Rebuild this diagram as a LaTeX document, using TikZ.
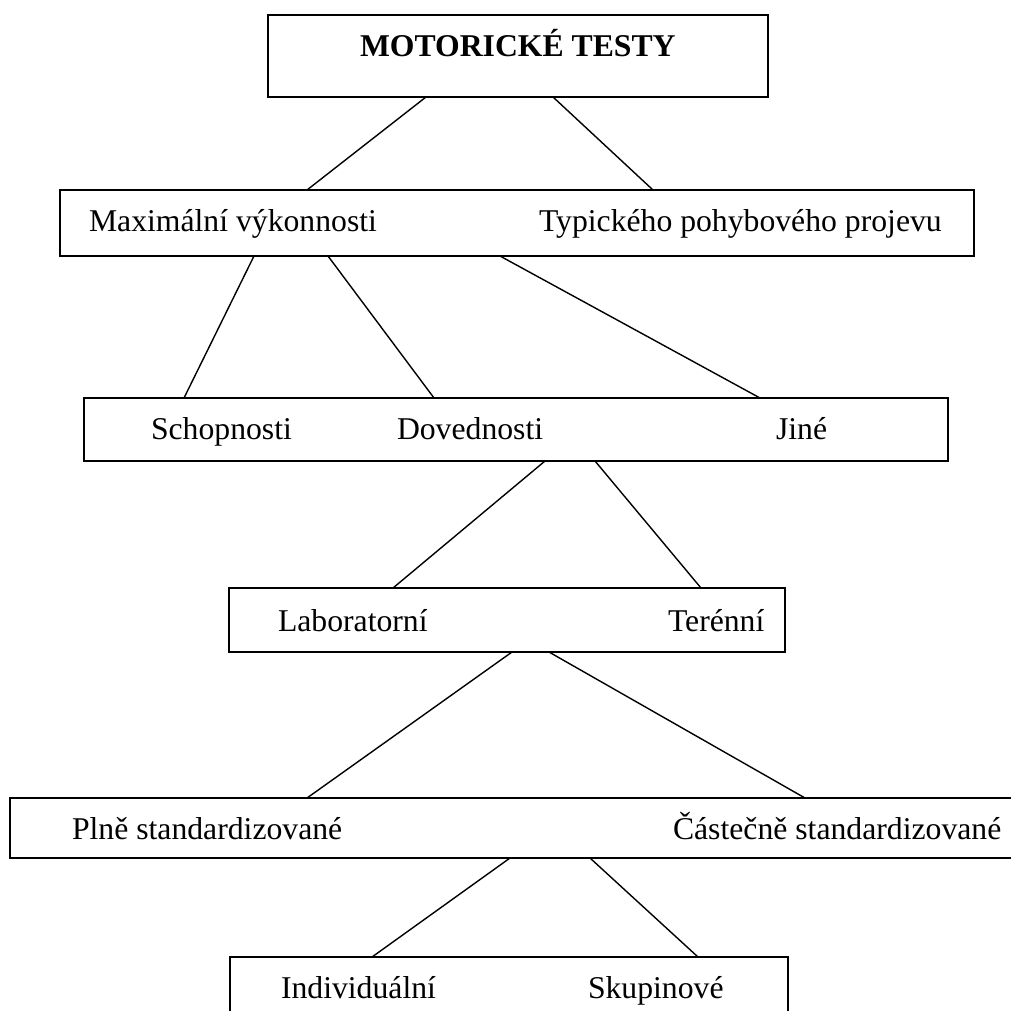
\documentclass[tikz,border=0pt]{standalone}
\usepackage{fontspec}
\setmainfont{Liberation Serif}
\begin{document}
\begin{tikzpicture}[x=1pt,y=-1pt,
  box/.style={draw=black,line width=1.8pt,inner sep=0pt,outer sep=0pt,anchor=north west},
  lbl/.style={inner sep=0pt,outer sep=0pt,anchor=base west,font=\fontsize{31.7}{38}\selectfont},
  ttl/.style={inner sep=0pt,outer sep=0pt,anchor=base west,font=\fontsize{31.7}{38}\selectfont\bfseries},
  conn/.style={draw=black,line width=1.4pt}]
\useasboundingbox[fill=white] (0,0) rectangle (1011,1010);
% boxes
\node[box,minimum width=500pt,minimum height=82pt] (b1) at (268,15) {};
\node[box,minimum width=914pt,minimum height=66pt] (b2) at (60,190) {};
\node[box,minimum width=864pt,minimum height=63pt] (b3) at (84,398) {};
\node[box,minimum width=556pt,minimum height=64pt] (b4) at (229,588) {};
\node[box,minimum width=1010pt,minimum height=60pt] (b5) at (10,798) {};
\node[box,minimum width=558pt,minimum height=80pt] (b6) at (230,957) {};
% texts
\node[ttl] (t1) at (360,56) {MOTORICKÉ TESTY};
\node[lbl] (t2a) at (89,231) {Maximální výkonnosti};
\node[lbl] (t2b) at (539,231) {Typického pohybového projevu};
\node[lbl] (t3a) at (151,439) {Schopnosti};
\node[lbl] (t3b) at (397,439) {Dovednosti};
\node[lbl] (t3c) at (776,439) {Jiné};
\node[lbl] (t4a) at (278,631) {Laboratorní};
\node[lbl] (t4b) at (668,631) {Terénní};
\node[lbl] (t5a) at (72,839) {Plně standardizované};
\node[lbl] (t5b) at (673,839) {Částečně standardizované};
\node[lbl] (t6a) at (281,998) {Individuální};
\node[lbl] (t6b) at (588,998) {Skupinové};
% connectors
\draw[conn] ([xshift=158pt]b1.south west) -- ([xshift=247pt]b2.north west);
\draw[conn] ([xshift=285pt]b1.south west) -- ([xshift=593pt]b2.north west);
\draw[conn] ([xshift=194pt]b2.south west) -- ([xshift=100pt]b3.north west);
\draw[conn] ([xshift=268pt]b2.south west) -- ([xshift=350pt]b3.north west);
\draw[conn] ([xshift=440pt]b2.south west) -- ([xshift=676pt]b3.north west);
\draw[conn] ([xshift=461pt]b3.south west) -- ([xshift=164pt]b4.north west);
\draw[conn] ([xshift=511pt]b3.south west) -- ([xshift=472pt]b4.north west);
\draw[conn] ([xshift=283pt]b4.south west) -- ([xshift=297pt]b5.north west);
\draw[conn] ([xshift=320pt]b4.south west) -- ([xshift=795pt]b5.north west);
\draw[conn] ([xshift=500pt]b5.south west) -- ([xshift=142pt]b6.north west);
\draw[conn] ([xshift=580pt]b5.south west) -- ([xshift=468pt]b6.north west);
\end{tikzpicture}
\end{document}
